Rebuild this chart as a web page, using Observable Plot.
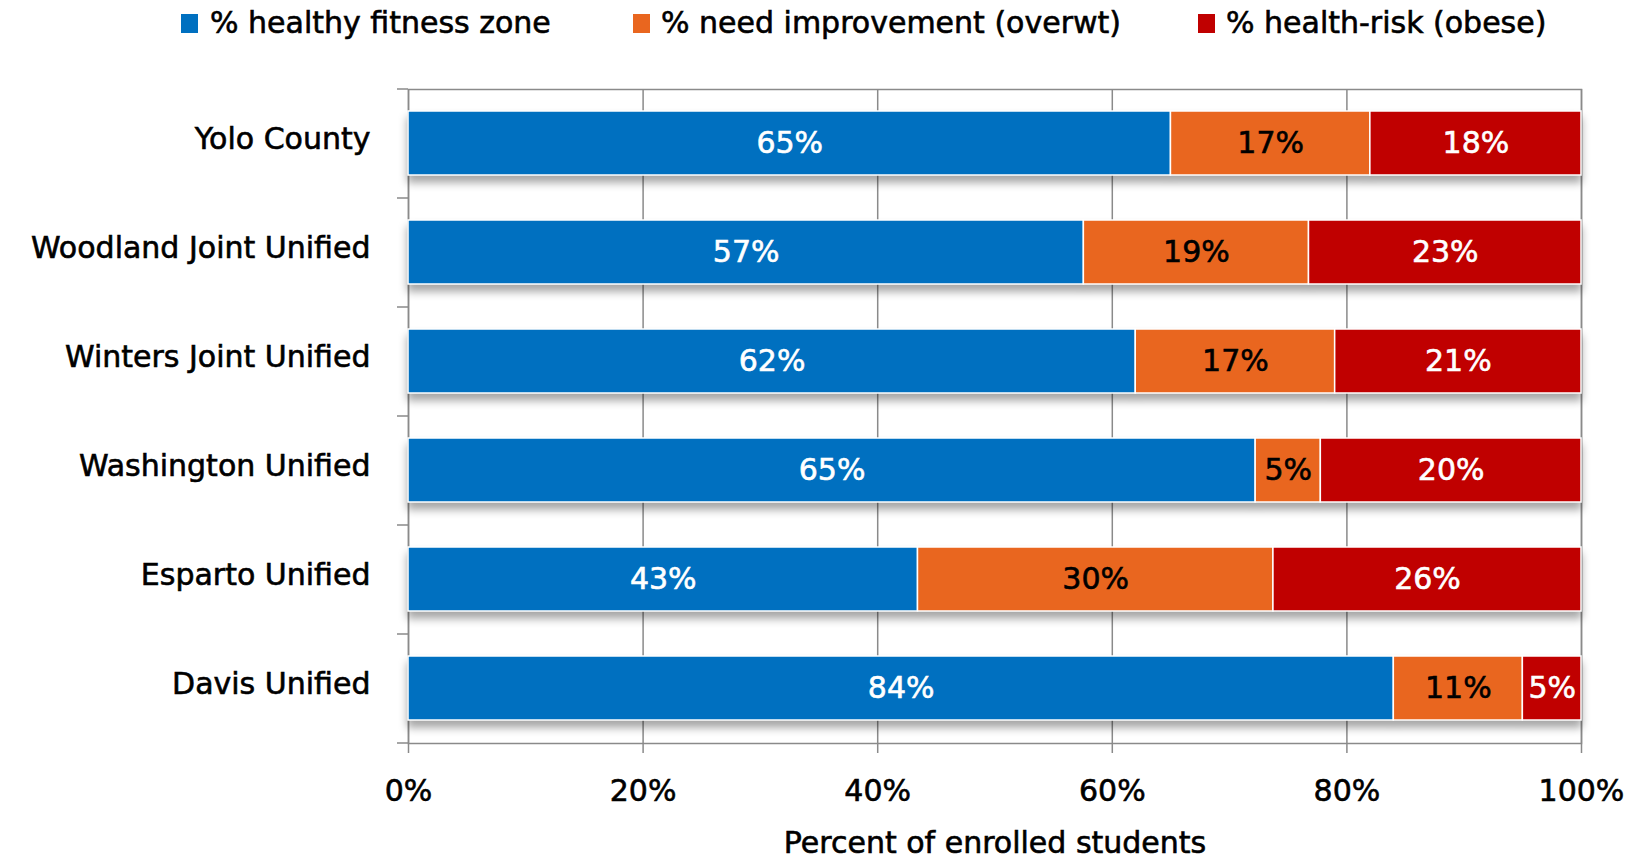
<!DOCTYPE html>
<html>
<head>
<meta charset="utf-8">
<script src="https://cdn.jsdelivr.net/npm/d3@7"></script>
<script src="https://cdn.jsdelivr.net/npm/@observablehq/plot@0.6"></script>
<style>
  html, body { margin: 0; padding: 0; background: #fff; }
  body { width: 1640px; height: 860px; overflow: hidden; font-family: "DejaVu Sans", sans-serif; }
  #legend { position: relative; height: 46px; font-size: 30px; color: #000; }
  #legend .sw { position: absolute; top: 14px; width: 17px; height: 19px; }
  #legend .lb { position: absolute; top: 0; line-height: 46px; white-space: nowrap; -webkit-text-stroke: 0.6px #000; }
  #chart svg g[aria-label="bar"] { filter: drop-shadow(0px 7px 4px rgba(0,0,0,0.35)); }
</style>
</head>
<body>
<div id="legend"></div>
<div id="chart"></div>
<script>
const districts = ["Yolo County", "Woodland Joint Unified", "Winters Joint Unified", "Washington Unified", "Esparto Unified", "Davis Unified"];
const categories = ["% healthy fitness zone", "% need improvement (overwt)", "% health-risk (obese)"];
const healthy = [65, 57, 62, 65, 43, 84];
const overweight = [17, 19, 17, 5, 30, 11];
const obese = [18, 23, 21, 20, 26, 5];
const colors = ["#0070C0", "#E9661F", "#C00000"];
const labelColors = ["#ffffff", "#000000", "#ffffff"];
const xTicks = [0, 0.2, 0.4, 0.6, 0.8, 1];

const series = [healthy, overweight, obese];
const rows = [];
districts.forEach((d, i) => {
  categories.forEach((c, j) => {
    rows.push({district: d, category: c, value: series[j][i], labelColor: labelColors[j]});
  });
});

// legend (HTML, above the SVG)
const legendPos = [[181, 210], [633, 661], [1198, 1226]];
const legend = document.getElementById("legend");
categories.forEach((c, j) => {
  const sw = document.createElement("div");
  sw.className = "sw";
  sw.style.left = legendPos[j][0] + "px";
  sw.style.background = colors[j];
  legend.appendChild(sw);
  const lb = document.createElement("div");
  lb.className = "lb";
  lb.style.left = legendPos[j][1] + "px";
  lb.textContent = c;
  legend.appendChild(lb);
});

const W = 1640, H = 814, mT = 43, mB = 117, mL = 408, mR = 59;
const step = (H - mT - mB) / districts.length;
const font = "DejaVu Sans, sans-serif";

const stackOpts = {x: "value", y: "district", z: "category", offset: "normalize", order: categories};

const chart = Plot.plot({
  width: W,
  height: H,
  marginTop: mT,
  marginBottom: mB,
  marginLeft: mL,
  marginRight: mR,
  style: {fontFamily: font, fontSize: "30px", color: "#000", background: "#fff"},
  x: {domain: [0, 1]},
  y: {domain: districts, paddingInner: 0.41, paddingOuter: 0.205},
  color: {domain: categories, range: colors},
  marks: [
    Plot.gridX(xTicks, {stroke: "#8a8a8a", strokeOpacity: 1, strokeWidth: 1.5}),
    Plot.frame({stroke: "#8a8a8a", strokeWidth: 1.5}),
    Plot.axisX({ticks: xTicks, tickFormat: d => Math.round(d * 100) + "%", tickSize: 10, tickPadding: 26, stroke: "#8a8a8a", strokeWidth: 1.5, fill: "#000", fontSize: 30,
      label: "Percent of enrolled students", labelAnchor: "center", labelOffset: 109, labelArrow: "none"}),
    Plot.axisY({tickSize: 0, tickPadding: 38, fontSize: 30, fill: "#000", dy: -4, label: null}),
    Plot.axisY({tickSize: 11, tickFormat: () => "", dy: -step / 2, stroke: "#8a8a8a", strokeWidth: 1.5, label: null}),
    Plot.axisY({ticks: districts.slice(-1), tickSize: 11, tickFormat: () => "", dy: step / 2, stroke: "#8a8a8a", strokeWidth: 1.5, label: null}),
    Plot.barX(rows, Plot.stackX({...stackOpts, fill: "category", stroke: "#ffffff", strokeWidth: 1.5})),
    Plot.text(rows, Plot.filter(d => d.labelColor === "#ffffff", Plot.stackX({...stackOpts, text: d => d.value + "%", fill: "#ffffff", fontSize: 30}))),
    Plot.text(rows, Plot.filter(d => d.labelColor === "#000000", Plot.stackX({...stackOpts, text: d => d.value + "%", fill: "#000000", fontSize: 30})))
  ]
});
document.getElementById("chart").appendChild(chart);
// slightly heavier glyphs, as in the reference
chart.querySelectorAll("text").forEach(t => {
  const f = getComputedStyle(t).fill;
  t.style.stroke = f;
  t.style.strokeWidth = "0.6px";
  t.style.paintOrder = "stroke";
});
</script>
</body>
</html>
